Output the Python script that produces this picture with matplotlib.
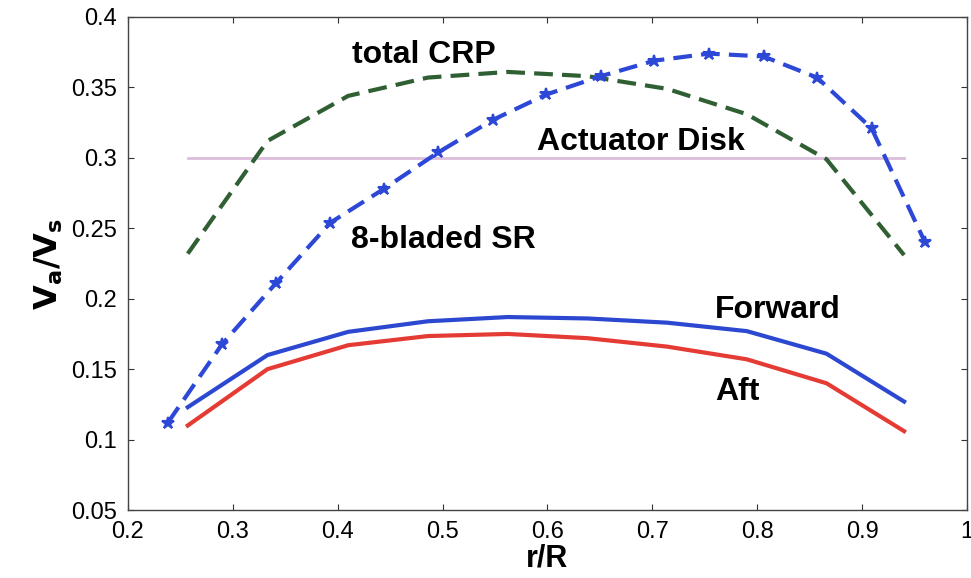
import numpy as np
import matplotlib
matplotlib.use('Agg')
import matplotlib.pyplot as plt

plt.rcParams['font.family'] = ['Liberation Sans', 'DejaVu Sans']

# radial stations of the CRP solution
r_crp = [0.257, 0.333, 0.41, 0.486, 0.562, 0.638, 0.714, 0.79, 0.866, 0.94]
v_forward = [0.123, 0.160, 0.1765, 0.184, 0.187, 0.186, 0.183, 0.177, 0.161, 0.127]
v_aft = [0.110, 0.150, 0.167, 0.1735, 0.175, 0.172, 0.166, 0.157, 0.140, 0.106]
v_total = [0.232, 0.312, 0.344, 0.357, 0.361, 0.358, 0.349, 0.331, 0.299, 0.231]

# single rotor, 8 blades
r_sr = [0.238, 0.290, 0.341, 0.393, 0.444, 0.496, 0.548, 0.599, 0.651, 0.702,
        0.754, 0.806, 0.857, 0.909, 0.960]
v_sr = [0.112, 0.168, 0.211, 0.254, 0.278, 0.304, 0.327, 0.345, 0.358, 0.369,
        0.374, 0.372, 0.357, 0.321, 0.240]

# actuator disk reference
r_ad = [0.257, 0.94]
v_ad = [0.30, 0.30]

xticks = [0.2, 0.3, 0.4, 0.5, 0.6, 0.7, 0.8, 0.9, 1.0]
xticklabels = ['0.2', '0.3', '0.4', '0.5', '0.6', '0.7', '0.8', '0.9', '1']
yticks = [0.05, 0.1, 0.15, 0.2, 0.25, 0.3, 0.35, 0.4]
yticklabels = ['0.05', '0.1', '0.15', '0.2', '0.25', '0.3', '0.35', '0.4']

fig = plt.figure(figsize=(9.71, 5.78), dpi=100)
ax = fig.add_axes([0.1318, 0.1176, 0.8641, 0.853])

ax.plot(r_ad, v_ad, color='#dcbddc', lw=2.0)
ax.plot(r_crp, v_total, color='#2f5f33', lw=3.0, dashes=(4.5, 2.2))
ax.plot(r_sr, v_sr, color='#2d48d6', lw=3.0, dashes=(4.5, 2.2),
        marker='*', markersize=9, markeredgewidth=1.5)
ax.plot(r_crp, v_forward, color='#2d48d0', lw=3.0)
ax.plot(r_crp, v_aft, color='#e53b35', lw=3.0)

lbl = dict(fontsize=23, fontweight='bold', ha='center', va='center')
ax.text(0.482, 0.373, 'total CRP', **lbl)
ax.text(0.6895, 0.311, 'Actuator Disk', **lbl)
ax.text(0.501, 0.242, '8-bladed SR', **lbl)
ax.text(0.8197, 0.1917, 'Forward', **lbl)
ax.text(0.781, 0.1336, 'Aft', **lbl)

ax.set_xlim(0.2, 1.0)
ax.set_ylim(0.05, 0.4)
ax.set_xticks(xticks)
ax.set_xticklabels(xticklabels)
ax.set_yticks(yticks)
ax.set_yticklabels(yticklabels)
ax.tick_params(direction='in', length=4, width=0.8, labelsize=17,
               top=True, right=True, pad=8, colors='#333333', labelcolor='black')
for s in ax.spines.values():
    s.set_color('#444444')
    s.set_linewidth(1.0)

ax.set_xlabel('r/R', fontsize=22, fontweight='bold', labelpad=0)
ax.set_ylabel(r'$\mathbf{V_a/V_s}$', fontsize=23, labelpad=4)

fig.savefig('out.png', dpi=100)
